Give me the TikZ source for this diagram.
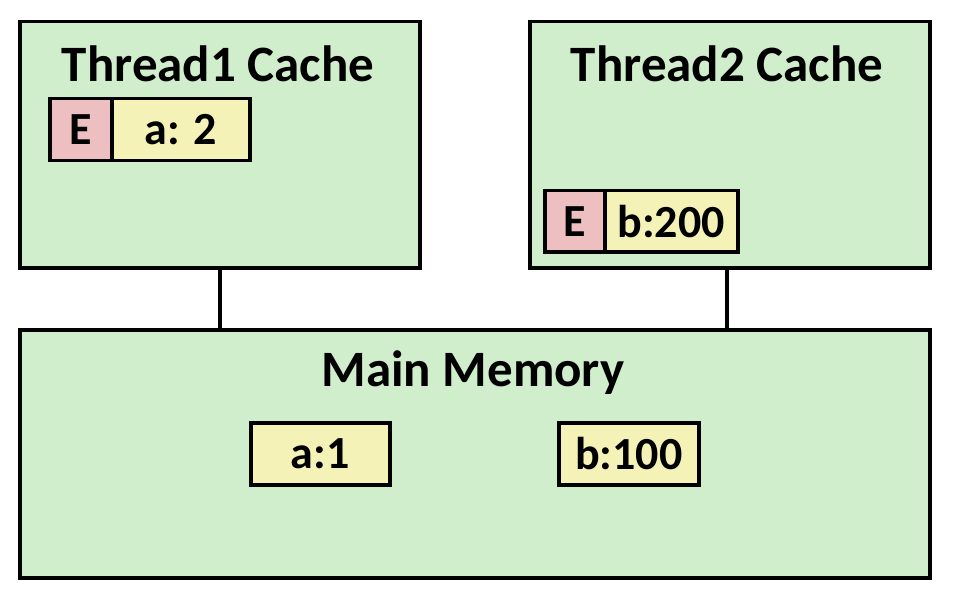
\documentclass[tikz,border=0pt]{standalone}
\usepackage{fontspec}
\setmainfont{Carlito}
\definecolor{boxgreen}{HTML}{D0EECC}
\definecolor{cellpink}{HTML}{EDBFC0}
\definecolor{cellyellow}{HTML}{F5F2B8}
\tikzset{
  panel/.style={draw=black, line width=3.5pt, fill=boxgreen},
  cell/.style={draw=black, line width=3.5pt, inner sep=0pt, font=\bfseries\fontsize{46}{50}\selectfont},
  statecell/.style={cell, fill=cellpink},
  datacell/.style={cell, fill=cellyellow},
  title/.style={font=\bfseries\fontsize{51}{56}\selectfont, inner sep=0pt},
  wire/.style={draw=black, line width=3.5pt}
}
\begin{document}
\begin{tikzpicture}[x=1pt,y=-1pt]
\useasboundingbox (0,0) rectangle (968,612);
% panels
\node[panel, minimum width=400pt, minimum height=246pt, anchor=north west] (t1) at (18,20) {};
\node[panel, minimum width=400pt, minimum height=246pt, anchor=north west] (t2) at (528,20) {};
\node[panel, minimum width=910pt, minimum height=248pt, anchor=north west] (mm) at (18,328) {};
% connectors
\draw[wire] (t1.south) -- (t1.south |- mm.north);
\coordinate (c2) at (727,266);
\draw[wire] (c2) -- (c2 |- mm.north);
% titles
\node[title] (t1title) at (218,64) {Thread1 Cache};
\node[title] (t2title) at (727,64) {Thread2 Cache};
\node[title] (mmtitle) at (473,373) {Main Memory};
% thread1 cells
\node[statecell, minimum width=62pt, minimum height=62pt, anchor=north west] (e1) at (48,97) {E};
\node[datacell, minimum width=138pt, minimum height=62pt, anchor=north west] (a2) at (110,97) {a: 2};
% thread2 cells
\node[statecell, minimum width=60pt, minimum height=61pt, anchor=north west] (e2) at (543,189) {E};
\node[datacell, minimum width=133pt, minimum height=61pt, anchor=north west] (b200) at (603,189) {b:200};
% memory cells
\node[datacell, minimum width=139pt, minimum height=62pt, anchor=north west] (a1) at (249,421) {a:1};
\node[datacell, minimum width=140pt, minimum height=62pt, anchor=north west] (b100) at (557,421) {b:100};
\end{tikzpicture}
\end{document}
